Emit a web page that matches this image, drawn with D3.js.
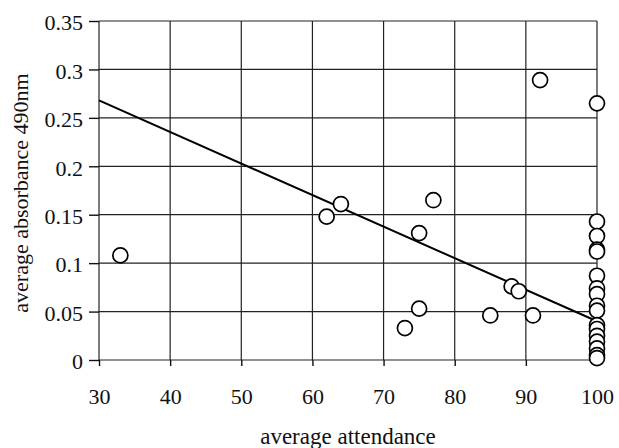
<!DOCTYPE html>
<html>
<head>
<meta charset="utf-8">
<script src="https://cdn.jsdelivr.net/npm/d3@7"></script>
<style>
  body { margin: 0; background: #fff; }
  text { font-family: "Liberation Serif", "DejaVu Serif", serif; fill: #111; }
</style>
</head>
<body>
<svg id="chart" width="619" height="448"></svg>
<script>
// values
const attendance = [
  33, 62, 64, 73, 75, 75, 77, 85, 88, 89, 91, 92,
  100, 100, 100, 100, 100, 100, 100, 100, 100, 100, 100, 100, 100, 100, 100, 100, 100,
];
const absorbance = [
  0.108, 0.148, 0.161, 0.033, 0.053, 0.131, 0.165, 0.046, 0.076, 0.071, 0.046, 0.289,
  0.265, 0.143, 0.128, 0.114, 0.112, 0.087, 0.074, 0.068, 0.056, 0.051, 0.036, 0.032,
  0.025, 0.019, 0.012, 0.005, 0.002,
];
const fitX = [30, 100];
const fitY = [0.268, 0.040];
const xTicks = [30, 40, 50, 60, 70, 80, 90, 100];
const yTicks = [0, 0.05, 0.1, 0.15, 0.2, 0.25, 0.3, 0.35];

const dim = { l: 99, t: 21, w: 498, h: 339 };

const svg = d3.select('#chart');
const x = d3.scaleLinear().domain([30, 100]).range([0, dim.w]);
const y = d3.scaleLinear().domain([0, 0.35]).range([dim.h, 0]);

const plot = svg.append('g').attr('transform', `translate(${dim.l},${dim.t})`);

// grid
plot.append('g')
  .selectAll('line')
  .data(yTicks)
  .enter()
  .append('line')
  .attr('x1', 0)
  .attr('x2', dim.w)
  .attr('y1', (d) => y(d))
  .attr('y2', (d) => y(d))
  .style('stroke', '#222')
  .style('stroke-width', 1.2);

plot.append('g')
  .selectAll('line')
  .data(xTicks)
  .enter()
  .append('line')
  .attr('x1', (d) => x(d))
  .attr('x2', (d) => x(d))
  .attr('y1', 0)
  .attr('y2', dim.h)
  .style('stroke', '#222')
  .style('stroke-width', 1.2);

// axes
const yAxis = plot.append('g')
  .call(d3.axisLeft(y).tickValues(yTicks).tickSize(10).tickPadding(6)
    .tickFormat((d) => `${+d.toFixed(2)}`));
const xAxis = plot.append('g')
  .attr('transform', `translate(0,${dim.h})`)
  .call(d3.axisBottom(x).tickValues(xTicks).tickSize(6).tickPadding(22));

[yAxis, xAxis].forEach((a) => {
  a.select('.domain').remove();
  a.selectAll('line').style('stroke', '#111').style('stroke-width', 1.4);
  a.selectAll('text')
    .style('font-family', '"Liberation Serif", serif')
    .style('font-size', '22px')
    .style('fill', '#111');
});
yAxis.selectAll('text').attr('dy', '0.4em');

// trend line
plot.append('line')
  .attr('x1', x(fitX[0]))
  .attr('y1', y(fitY[0]))
  .attr('x2', x(fitX[1]))
  .attr('y2', y(fitY[1]))
  .style('stroke', '#000')
  .style('stroke-width', 2);

// points
plot.append('g')
  .selectAll('circle')
  .data(attendance.map((a, i) => [a, absorbance[i]]))
  .enter()
  .append('circle')
  .attr('cx', (d) => x(d[0]))
  .attr('cy', (d) => y(d[1]))
  .attr('r', 7.5)
  .style('fill', '#fff')
  .style('stroke', '#000')
  .style('stroke-width', 1.7);

// titles
svg.append('text')
  .attr('x', dim.l + dim.w / 2)
  .attr('y', 444)
  .style('text-anchor', 'middle')
  .style('font-size', '23px')
  .text('average attendance');

svg.append('text')
  .attr('transform', `translate(28,${dim.t + 172}) rotate(-90)`)
  .style('text-anchor', 'middle')
  .style('font-size', '22px')
  .text('average absorbance 490nm');
</script>
</body>
</html>
